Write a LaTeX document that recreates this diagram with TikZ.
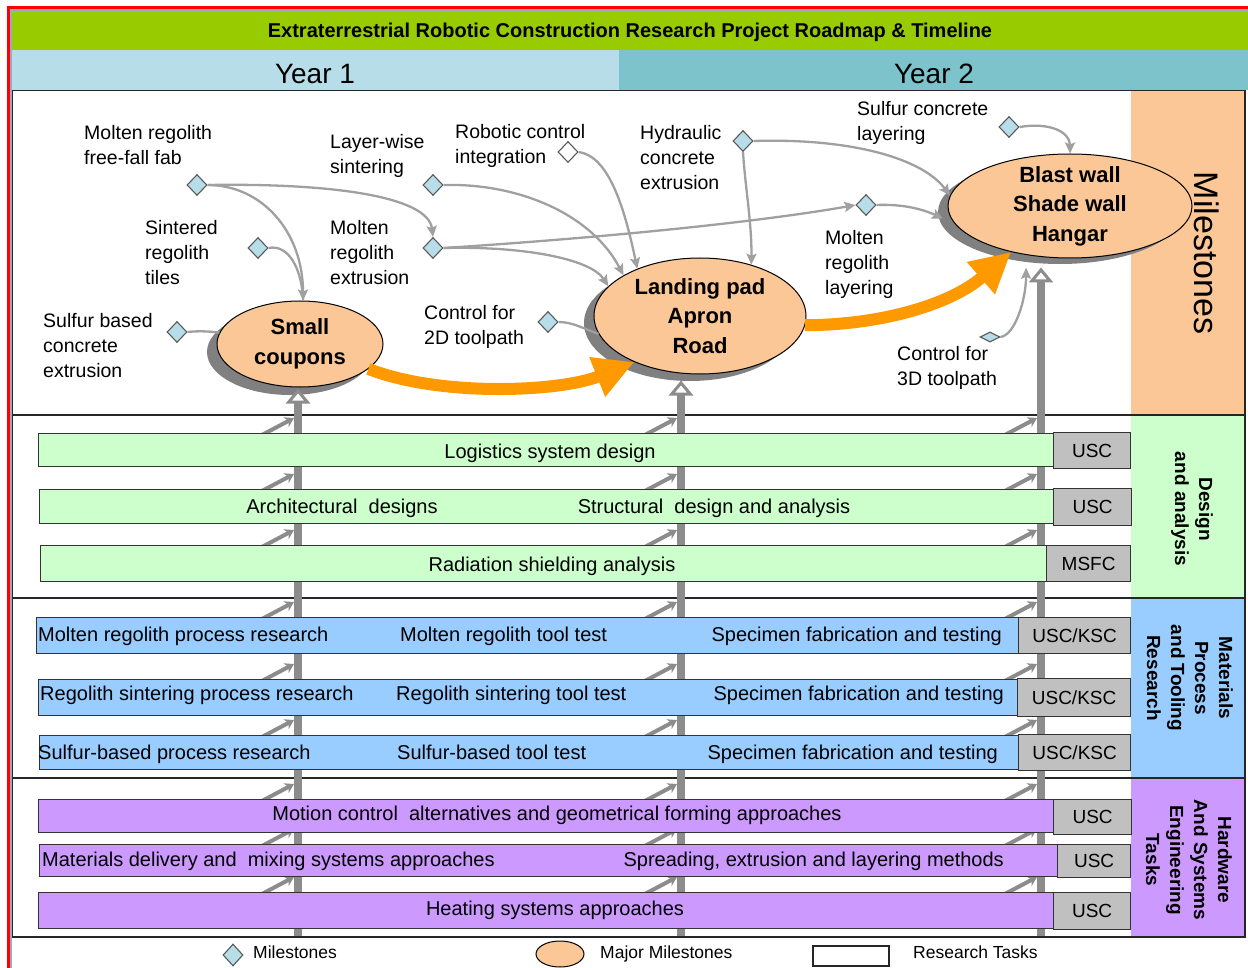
\documentclass[tikz,border=0pt]{standalone}
\usepackage{fontspec}
\setmainfont{Liberation Sans}
\usetikzlibrary{shapes.geometric,arrows.meta,calc}
\definecolor{titlegreen}{HTML}{99CC00}
\definecolor{yearone}{HTML}{B7DEE8}
\definecolor{yeartwo}{HTML}{7CC3CB}
\definecolor{peach}{HTML}{FBC796}
\definecolor{mintgreen}{HTML}{CCFFCC}
\definecolor{skyblue}{HTML}{99CCFF}
\definecolor{lilac}{HTML}{CC99FF}
\definecolor{boxgrey}{HTML}{C0C0C0}
\definecolor{msfill}{HTML}{B7DEE8}
\definecolor{conngrey}{HTML}{A0A0A0}
\definecolor{tlgrey}{HTML}{8C8C8C}
\definecolor{shadowgrey}{HTML}{808080}
\definecolor{orangearrow}{HTML}{FF9900}
\definecolor{framered}{HTML}{FF0000}
\definecolor{framestrip}{HTML}{9BA8C4}
\begin{document}
\begin{tikzpicture}[x=1pt,y=-1pt,
  ms/.style={diamond, draw=black!65, line width=1.1, fill=msfill, minimum width=20, minimum height=21, inner sep=0},
  mslabel/.style={font=\fontsize{19.5}{25}\selectfont, align=left, anchor=west, inner sep=0},
  major/.style={ellipse, draw=black, line width=1, fill=peach, inner sep=0},
  shadowell/.style={ellipse, fill=shadowgrey, inner sep=0},
  majortext/.style={font=\fontsize{22}{29.5}\selectfont\bfseries, align=center, inner sep=0},
  conn/.style={draw=conngrey, line width=2.3, -{Stealth[length=11,width=10,inset=2]}},
  connplain/.style={draw=conngrey, line width=2.3},
  bigarrow/.style={draw=orangearrow, line width=12, -{Triangle[length=40,width=40]}},
  timeline/.style={draw=tlgrey, line width=8, -{Triangle[length=15,width=24,fill=white,line width=3]}},
  feeder/.style={draw=tlgrey, line width=4, -{Stealth[length=9,width=11]}},
  bar/.style={draw=black!80, line width=1.2, anchor=north west, inner sep=0},
  agency/.style={draw=black!80, line width=1.2, fill=boxgrey, anchor=north west, inner sep=0, font=\fontsize{19}{22}\selectfont},
  bartext/.style={font=\fontsize{20}{24}\selectfont, inner sep=0, text height=14pt, text depth=4pt},
  sidelabel/.style={rotate=-90, font=\fontsize{19}{24}\selectfont\bfseries, align=center, inner sep=0},
  sectline/.style={draw=black!85, line width=1.5},
  legtext/.style={font=\fontsize{17.5}{20}\selectfont, inner sep=0, anchor=west, text height=12pt, text depth=4pt}
]
\useasboundingbox (0,0) rectangle (1248,968);
\fill[white] (0,0) rectangle (1248,968);

% header
\fill[framestrip] (10,9) rectangle (1248,968);
\fill[white] (12,90) rectangle (1248,968);
\fill[titlegreen] (12,12) rectangle (1248,50);
\fill[yearone] (12,50) rectangle (619,90);
\fill[yeartwo] (619,50) rectangle (1248,90);
\node[font=\fontsize{20}{24}\selectfont\bfseries, inner sep=0] (title) at (630,32) {Extraterrestrial Robotic Construction Research Project Roadmap \& Timeline};
\node[font=\fontsize{28}{32}\selectfont, inner sep=0] (y1) at (315,74) {Year 1};
\node[font=\fontsize{28}{32}\selectfont, inner sep=0] (y2) at (934,74) {Year 2};

% right column
\fill[peach] (1131,91) rectangle (1245,415);
\fill[mintgreen] (1131,415) rectangle (1245,598);
\fill[skyblue] (1131,598) rectangle (1245,778);
\fill[lilac] (1131,778) rectangle (1245,937);
\node[rotate=-90, font=\fontsize{34}{38}\selectfont, inner sep=0] (mlab) at (1207,253) {Milestones};
\node[sidelabel] (dlab) at (1192,509) {Design\\and analysis};
\node[sidelabel] (plab) at (1190,678) {Materials\\Process\\and Tooling\\Research};
\node[sidelabel] (hlab) at (1189,860) {Hardware\\And Systems\\Engineering\\Tasks};

% section lines
\draw[sectline] (12,415) -- (1245,415);
\draw[sectline] (12,598) -- (1245,598);
\draw[sectline] (12,778) -- (1245,778);

% major milestones
\node[shadowell, minimum width=166, minimum height=86] (scs) at (290,352) {};
\node[major, minimum width=166, minimum height=86] (sc) at (300,344) {};
\node[shadowell, minimum width=212, minimum height=116] (lps) at (690,323) {};
\node[major, minimum width=212, minimum height=116] (lp) at (700,316) {};
\node[shadowell, minimum width=244, minimum height=104] (bws) at (1060,212) {};
\node[major, minimum width=244, minimum height=104] (bw) at (1070,206) {};
\node[majortext] (sct) at (sc) {Small\\coupons};
\node[majortext] (lpt) at (lp) {Landing pad\\Apron\\Road};
\node[majortext] (bwt) at (bw) {Blast wall\\Shade wall\\Hangar};

% timelines
\coordinate (t1) at (298,937);
\coordinate (t2) at (681,937);
\coordinate (t3) at (1041,937);
\draw[timeline] (t1) -- ($(t1 |- sc.south)+(0,1)$);
\draw[timeline] (t2) -- ($(t2 |- lp.south)+(0,6)$);
\draw[timeline] (t3) -- ($(t3 |- bw.south)+(0,9)$);
\foreach \yy in {433,489,545,617,679,735,799,844,892}{
  \foreach \xx in {298,681,1041}{
    \draw[feeder] (\xx-38,\yy+3) -- (\xx-4,\yy-15);
  }
}

% task bars
\node[bar, fill=mintgreen, minimum width=1015, minimum height=33] (b1) at (38,433) {};
\node[agency, minimum width=77, minimum height=36] (a1) at (1053,432) {USC};
\node[bar, fill=mintgreen, minimum width=1014, minimum height=34] (b2) at (39,489) {};
\node[agency, minimum width=78, minimum height=37] (a2) at (1053,488) {USC};
\node[bar, fill=mintgreen, minimum width=1006, minimum height=36] (b3) at (40,545) {};
\node[agency, minimum width=84, minimum height=36] (a3) at (1046,545) {MSFC};
\node[bar, fill=skyblue, minimum width=982, minimum height=36] (b4) at (36,617) {};
\node[agency, minimum width=112, minimum height=36] (a4) at (1018,617) {USC/KSC};
\node[bar, fill=skyblue, minimum width=979, minimum height=36] (b5) at (38,679) {};
\node[agency, minimum width=113, minimum height=38] (a5) at (1017,678) {USC/KSC};
\node[bar, fill=skyblue, minimum width=979, minimum height=34] (b6) at (39,735) {};
\node[agency, minimum width=112, minimum height=36] (a6) at (1018,734) {USC/KSC};
\node[bar, fill=lilac, minimum width=1015, minimum height=33] (b7) at (38,799) {};
\node[agency, minimum width=78, minimum height=35] (a7) at (1053,799) {USC};
\node[bar, fill=lilac, minimum width=1018, minimum height=32] (b8) at (39,844) {};
\node[agency, minimum width=73, minimum height=33] (a8) at (1057,844) {USC};
\node[bar, fill=lilac, minimum width=1015, minimum height=36] (b9) at (38,892) {};
\node[agency, minimum width=77, minimum height=37] (a9) at (1053,892) {USC};

\node[bartext] (x1) at (550,453) {Logistics system design};
\node[bartext] (x2a) at (342,508) {Architectural\ \ designs};
\node[bartext] (x2b) at (714,508) {Structural\ \ design and analysis};
\node[bartext] (x3) at (552,566) {Radiation shielding analysis};
\node[bartext, anchor=west] (x4a) at (38,636) {Molten regolith process research};
\node[bartext, anchor=west] (x4b) at (400,636) {Molten regolith tool test};
\node[bartext, anchor=east] (x4c) at (1002,636) {Specimen fabrication and testing};
\node[bartext, anchor=west] (x5a) at (40,695) {Regolith sintering process research};
\node[bartext, anchor=west] (x5b) at (396,695) {Regolith sintering tool test};
\node[bartext, anchor=east] (x5c) at (1004,695) {Specimen fabrication and testing};
\node[bartext, anchor=west] (x6a) at (38,754) {Sulfur-based process research};
\node[bartext, anchor=west] (x6b) at (397,754) {Sulfur-based tool test};
\node[bartext, anchor=east] (x6c) at (998,754) {Specimen fabrication and testing};
\node[bartext] (x7) at (557,815) {Motion control\ \ alternatives and geometrical forming approaches};
\node[bartext, anchor=west] (x8a) at (42,861) {Materials delivery and\ \ mixing systems approaches};
\node[bartext, anchor=east] (x8b) at (1004,861) {Spreading, extrusion and layering methods};
\node[bartext] (x9) at (555,910) {Heating systems approaches};

% milestones
\node[ms] (d1) at (197,185) {};
\node[ms] (d2) at (258,248) {};
\node[ms] (d3) at (177,332) {};
\node[ms] (d4) at (433,185) {};
\node[ms, fill=white] (d5) at (568,152) {};
\node[ms] (d6) at (433,248) {};
\node[ms] (d7) at (548,322) {};
\node[ms] (d8) at (743,141) {};
\node[ms] (d9) at (1009,127) {};
\node[ms] (d10) at (866,205) {};
\node[ms, minimum height=10] (d11) at (990,337) {};

\node[mslabel] (l1) at (84,145) {Molten regolith\\free-fall fab};
\node[mslabel] (l2) at (145,253) {Sintered\\regolith\\tiles};
\node[mslabel] (l3) at (43,346) {Sulfur based\\concrete\\extrusion};
\node[mslabel] (l4) at (330,156) {Layer-wise\\sintering};
\node[mslabel] (l5) at (455,146) {Robotic control\\integration};
\node[mslabel] (l6) at (330,253) {Molten\\regolith\\extrusion};
\node[mslabel] (l7) at (424,327) {Control for\\2D toolpath};
\node[mslabel] (l8) at (640,158) {Hydraulic\\concrete\\extrusion};
\node[mslabel] (l9) at (857,123) {Sulfur concrete\\layering};
\node[mslabel] (l10) at (825,264) {Molten\\regolith\\layering};
\node[mslabel] (l11) at (897,368) {Control for\\3D toolpath};

% connectors
\draw[connplain] (d2.east) .. controls (288,244) and (302,268) .. (sc.86);
\draw[conn] (d1.east) .. controls (262,185) and (303,232) .. (sc.86);
\draw[conn] (d1.east) .. controls (330,183) and (428,196) .. (d6.north);
\draw[connplain] (d3.east) .. controls (196,331) and (208,331) .. (sc.172);
\draw[conn] (d4.east) .. controls (520,183) and (592,215) .. (lp.152);
\draw[conn] (d5.east) .. controls (608,156) and (624,205) .. (lp.143);
\draw[conn] (d6.east) .. controls (520,246) and (590,258) .. (lp.162);
\draw[conn] (d6.east) .. controls (600,238) and (760,222) .. (d10.west);
\draw[connplain] (d7.east) .. controls (572,322) and (582,328) .. (lp.190);
\draw[conn] (d8.south) .. controls (745,185) and (752,225) .. (lp.45);
\draw[conn] (d8.east) .. controls (850,138) and (922,158) .. (bw.175);
\draw[conn] (d9.east) .. controls (1050,122) and (1070,132) .. (bw.north);
\draw[conn] (d10.east) .. controls (900,204) and (920,208) .. ($(bw.186)+(-8,0)$);
\draw[conn] (d11.east) .. controls (1015,335) and (1026,300) .. ($(bw.232)+(-5,12)$);

% major arrows
\draw[bigarrow] (sc.-20) .. controls (440,397) and (560,392) .. (lp.215);
\draw[bigarrow] (lp.-5) .. controls (880,325) and (950,305) .. (bw.218);

% frames
\draw[black!85, line width=1.5] (12.5,90.5) rectangle (1245,937);
\draw[framered, line width=3] (8.5,980) -- (8.5,7.5) -- (1260,7.5);

% legend
\node[ms, minimum height=22] (lg1) at (233,955) {};
\node[legtext] (lg1t) at (253,954) {Milestones};
\node[major, minimum width=48, minimum height=26] (lg2) at (560,954) {};
\node[legtext] (lg2t) at (600,954) {Major Milestones};
\node[draw=black!85, line width=1.2, minimum width=76, minimum height=20, inner sep=0] (lg3) at (851,956) {};
\node[legtext] (lg3t) at (913,954) {Research Tasks};
\end{tikzpicture}
\end{document}
